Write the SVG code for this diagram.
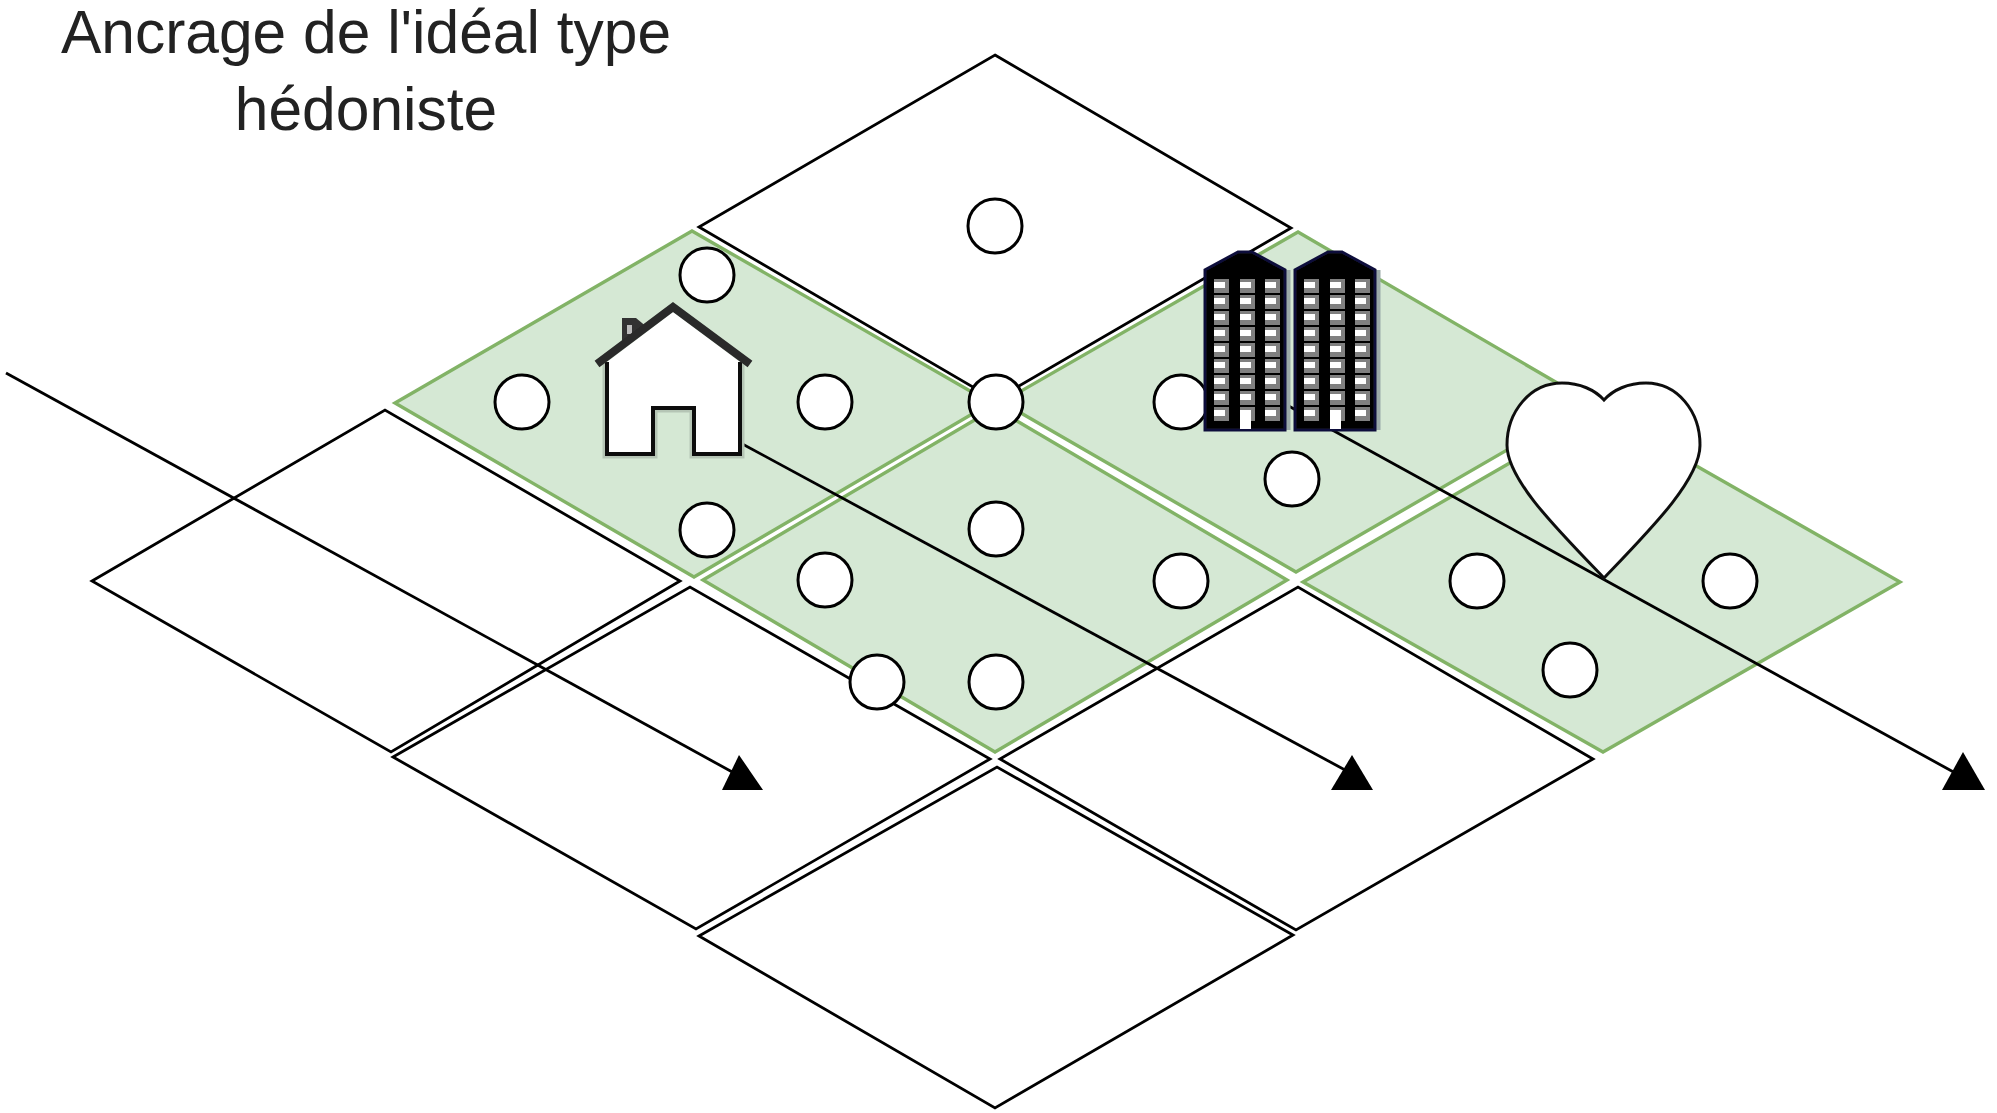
<svg xmlns="http://www.w3.org/2000/svg" width="1997" height="1113" viewBox="0 0 1997 1113">
<style>
.plain{fill:#fff;stroke:#000;stroke-width:2.8;stroke-linejoin:miter}
.green{fill:#d5e8d4;stroke:#82b366;stroke-width:3.4}
.dot{fill:#fff;stroke:#000;stroke-width:3}
.link{fill:none;stroke:#000;stroke-width:2.8}
.head{fill:#000}
.label{font-family:"Liberation Sans",Arial,sans-serif;font-size:60.5px;fill:#222;text-anchor:middle}
</style>
<defs>
<filter id="soft" x="0" y="0" width="100%" height="100%" filterUnits="userSpaceOnUse"><feGaussianBlur stdDeviation="0.6"/></filter>
<g id="win"><rect x="0" y="0" width="15" height="14" fill="#808080"/><rect x="0" y="3" width="11" height="6" fill="#fff"/></g>
<g id="row"><use href="#win" x="1214"/><use href="#win" x="1240"/><use href="#win" x="1265"/></g>
<g id="tower">
<path d="M1288,270V430" fill="none" stroke="#9aa9a8" stroke-width="5"/>
<path d="M1205,430V270L1238,252H1252L1285,270V430Z" fill="#000" stroke="#10103a" stroke-width="3"/>
<use href="#row" y="279"/><use href="#row" y="295"/><use href="#row" y="311"/><use href="#row" y="327"/><use href="#row" y="343"/><use href="#row" y="359"/><use href="#row" y="375"/><use href="#row" y="391"/><use href="#row" y="407"/>
<rect x="1240" y="412" width="11" height="17" fill="#fff"/>
</g>
</defs>

<g id="diagram" style="filter:url(#soft)">
<g id="cell-bottom-left"><polygon class="plain" points="92,581 385,410 680,581 391,752"/></g>
<g id="cell-bottom-middle"><polygon class="plain" points="393,757 690,587 990,759 696,929"/></g>
<g id="cell-bottom-right"><polygon class="plain" points="1000,759 1298,587 1593,759 1296,930"/></g>
<g id="cell-bottom"><polygon class="plain" points="699,936 997,767 1293,935 995,1108"/></g>
<g id="cell-green-left"><polygon class="green" points="395,403 692,231 991,403 694,577"/></g>
<g id="cell-green-middle"><polygon class="green" points="703,580 995,408 1287,580 995,752"/></g>
<g id="cell-green-upper-right"><polygon class="green" points="1002,402 1298,232 1590,402 1296,572"/></g>
<g id="cell-green-right"><polygon class="green" points="1303,582 1600,411 1900,582 1603,752"/></g>
<g id="cell-top"><polygon class="plain" points="995,55 1291,228 995,400 699,227"/></g>

<g id="connectors">
<polyline class="link" points="6,373 745,779"/>
<polygon class="head" points="739,755 763,790 722,790"/>
<polyline class="link" points="735,440 1358,777"/>
<polygon class="head" points="1352,755 1373,790 1331,790"/>
<polyline class="link" points="1285,404 1968,780"/>
<polygon class="head" points="1963,752 1985,790 1942,790"/>
</g>

<g id="dots">
<circle class="dot" cx="995" cy="226" r="27"/>
<circle class="dot" cx="707" cy="275" r="27"/>
<circle class="dot" cx="522" cy="402" r="27"/>
<circle class="dot" cx="825" cy="402" r="27"/>
<circle class="dot" cx="996" cy="402" r="27"/>
<circle class="dot" cx="1181" cy="402" r="27"/>
<circle class="dot" cx="1292" cy="479" r="27"/>
<circle class="dot" cx="707" cy="530" r="27"/>
<circle class="dot" cx="996" cy="529" r="27"/>
<circle class="dot" cx="825" cy="580" r="27"/>
<circle class="dot" cx="1181" cy="581" r="27"/>
<circle class="dot" cx="1477" cy="581" r="27"/>
<circle class="dot" cx="1730" cy="581" r="27"/>
<circle class="dot" cx="1570" cy="670" r="27"/>
<circle class="dot" cx="877" cy="682" r="27"/>
<circle class="dot" cx="996" cy="682" r="27"/>
</g>

<g id="house">
<path d="M607,362V454H653V408H694V454H740V362" fill="none" stroke="#b5c5b5" stroke-width="9"/>
<path d="M607,362L673,312L740,362V454H694V408H653V454H607Z" fill="#fff" stroke="none"/>
<path d="M607,362V454H653V408H694V454H740V362" fill="none" stroke="#111" stroke-width="4"/>
<polygon points="622,318 636,318 648,328 622,348" fill="#333"/>
<rect x="627" y="325" width="5" height="9" fill="#bbb"/>
<path d="M597,364L673,307L750,364" fill="none" stroke="#2a2a2a" stroke-width="8"/>
</g>

<g id="towers">
<use href="#tower"/>
<use href="#tower" x="90"/>
</g>

<g id="heart">
<path d="M1604,400C1595,390 1580,383 1562,383C1530,383 1507,412 1507,445C1507,480 1558,530 1604,578C1650,530 1700,480 1700,445C1700,412 1678,383 1646,383C1628,383 1613,390 1604,400Z" fill="#fff" stroke="#111" stroke-width="3"/>
</g>

<g id="title">
<text class="label" x="366" y="53">Ancrage de l'idéal type</text>
<text class="label" x="366" y="130">hédoniste</text>
</g>
</g>
</svg>
